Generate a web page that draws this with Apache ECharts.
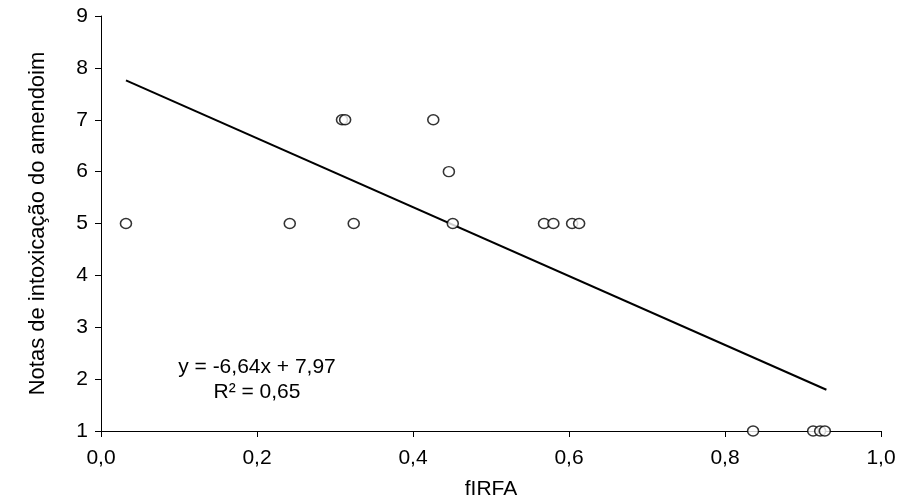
<!DOCTYPE html>
<html>
<head>
<meta charset="utf-8">
<script src="https://cdn.jsdelivr.net/npm/echarts@6/dist/echarts.min.js"></script>
<style>
html, body { margin: 0; padding: 0; background: #fff; }
#chart { width: 902px; height: 499px; }
</style>
</head>
<body>
<div id="chart"></div>
<script>
// fIRFA x nota de intoxicacao
var firfa = [0.032, 0.242, 0.324, 0.451, 0.568, 0.580, 0.604, 0.613,
             0.309, 0.313, 0.426, 0.446,
             0.836, 0.913, 0.922, 0.928]
var notas = [5, 5, 5, 5, 5, 5, 5, 5,
             7, 7, 7, 6,
             1, 1, 1, 1]
var slope = -6.64
var intercept = 7.97
var lineX = [0.032, 0.93]
var xTicks = [0, 0.2, 0.4, 0.6, 0.8, 1.0]

var points = firfa.map(function (x, i) { return [x, notas[i]] })
var trend = lineX.map(function (x) { return [x, intercept + slope * x] })

var font = 'Liberation Sans, Arial, sans-serif'
var dom = document.getElementById('chart')
var chart = echarts.init(dom)
var option = {
    animation: false,
    grid: { left: 101, right: 21, top: 16, bottom: 68, containLabel: false, outerBoundsMode: 'none' },
    xAxis: {
        type: 'value',
        min: 0,
        max: 1,
        interval: 0.2,
        name: 'fIRFA',
        nameLocation: 'middle',
        nameGap: 48,
        nameTextStyle: { fontFamily: font, fontSize: 21, color: '#000' },
        axisLine: { lineStyle: { color: '#000', width: 1 } },
        axisTick: { show: true, length: 6, lineStyle: { color: '#000' } },
        axisLabel: {
            fontFamily: font, fontSize: 21, color: '#000', margin: 17,
            formatter: function (v) { return v.toFixed(1).replace('.', ',') }
        },
        splitLine: { show: false }
    },
    yAxis: {
        type: 'value',
        min: 1,
        max: 9,
        interval: 1,
        name: 'Notas de intoxicação do amendoim',
        nameLocation: 'middle',
        nameRotate: 90,
        nameGap: 52,
        nameTextStyle: { fontFamily: font, fontSize: 22, color: '#000' },
        axisLine: { show: true, lineStyle: { color: '#000', width: 1 } },
        axisTick: { show: true, length: 6, lineStyle: { color: '#000' } },
        axisLabel: { fontFamily: font, fontSize: 21, color: '#000', margin: 13 },
        splitLine: { show: false }
    },
    series: [
        {
            type: 'line',
            data: trend,
            symbol: 'none',
            lineStyle: { color: '#000', width: 2 },
            z: 2
        },
        {
            type: 'scatter',
            data: points,
            symbol: 'circle',
            symbolSize: [11, 10],
            itemStyle: { color: '#fff', borderColor: '#000', borderWidth: 1.5 },
            z: 3
        }
    ],
    graphic: [
        {
            type: 'text',
            x: 257,
            y: 367,
            style: {
                text: 'y = -6,64x + 7,97', font: '21px ' + font, fill: '#000',
                textAlign: 'center', textVerticalAlign: 'middle'
            }
        },
        {
            type: 'text',
            x: 257,
            y: 392,
            style: {
                text: 'R² = 0,65', font: '21px ' + font, fill: '#000',
                textAlign: 'center', textVerticalAlign: 'middle'
            }
        }
    ]
}
chart.setOption(option)
</script>
</body>
</html>
